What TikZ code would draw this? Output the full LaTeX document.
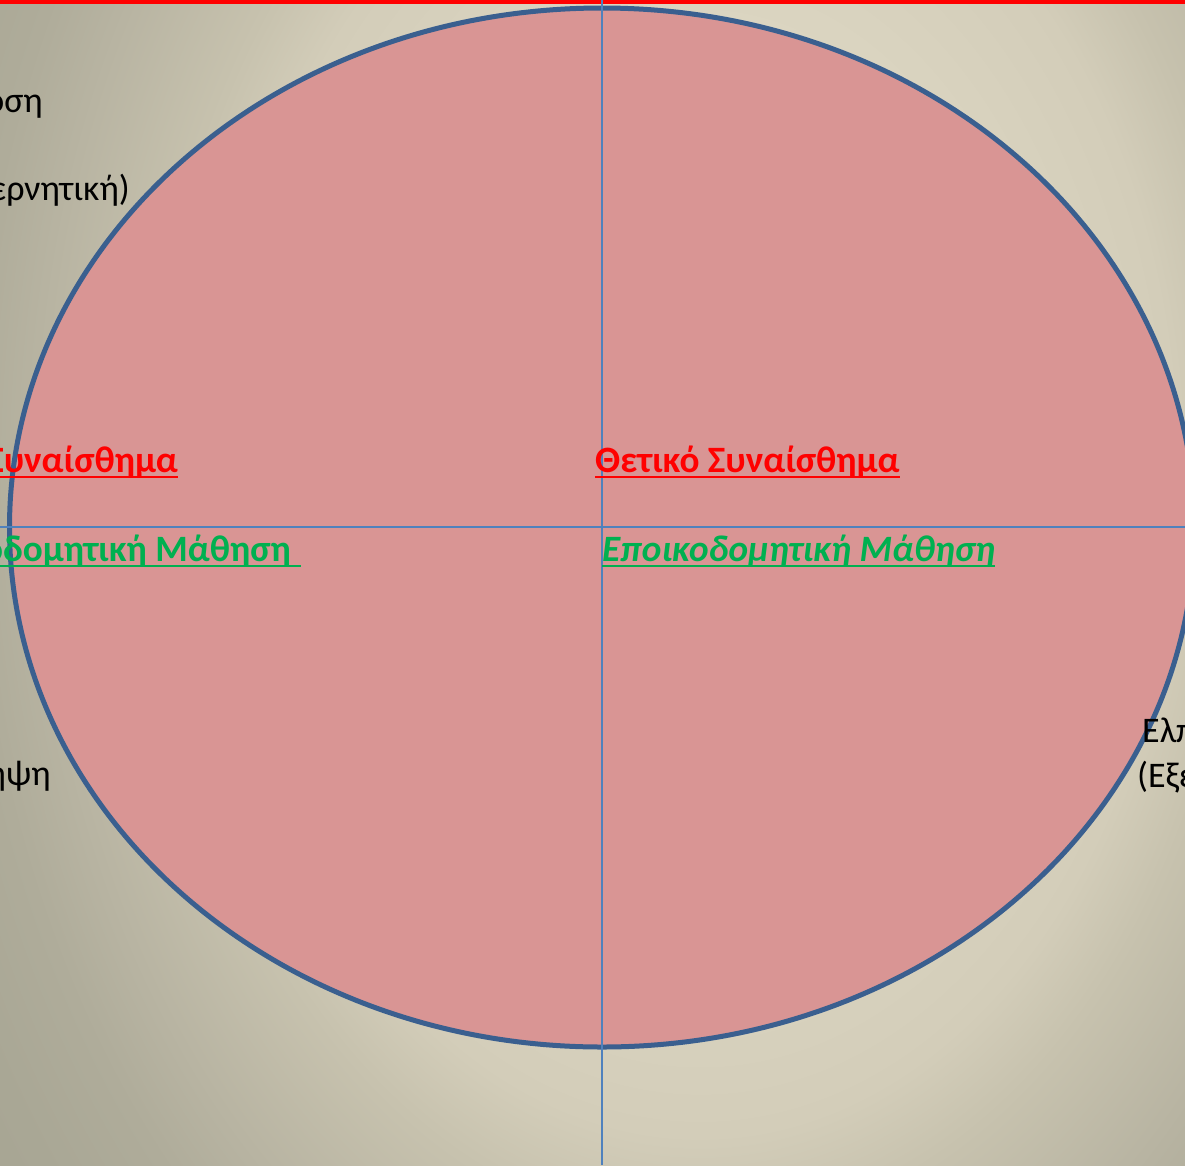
\documentclass[tikz,border=0pt]{standalone}
\usepackage{fontspec}
\usetikzlibrary{shapes.geometric}
\setmainfont{Carlito}
\definecolor{bgA}{HTML}{DFD9C5}
\definecolor{bgB}{HTML}{DCD6C2}
\definecolor{bgC}{HTML}{D3CDB9}
\definecolor{bgD}{HTML}{C7C2AE}
\definecolor{bgE}{HTML}{B8B4A2}
\definecolor{bgF}{HTML}{AFAC9A}
\definecolor{bgG}{HTML}{A9A795}
\definecolor{bgH}{HTML}{A4A190}
\definecolor{ellfill}{HTML}{D99594}
\definecolor{ellborder}{HTML}{3A5F8F}
\definecolor{axisblue}{HTML}{4F81BD}
\definecolor{txtred}{HTML}{FF0000}
\definecolor{txtgreen}{HTML}{00B050}
\pgfdeclareradialshading{bgshade}{\pgfpoint{0bp}{0bp}}{color(0bp)=(bgA); color(7.5bp)=(bgB); color(11.875bp)=(bgC); color(13.625bp)=(bgD); color(16.5bp)=(bgE); color(18.25bp)=(bgF); color(20.5bp)=(bgG); color(25bp)=(bgH); color(50bp)=(bgH)}
\tikzset{
  lbl/.style={inner sep=0pt, font=\fontsize{36}{44}\selectfont},
  redlbl/.style={lbl, text=txtred, font=\fontsize{37.2}{44}\selectfont\bfseries},
  greenlbl/.style={lbl, text=txtgreen, font=\fontsize{37.2}{44}\selectfont\bfseries},
  greenit/.style={lbl, text=txtgreen, font=\fontsize{37.2}{44}\selectfont\bfseries\itshape},
  blacklbl/.style={lbl, text=black},
  redul/.style={txtred, line width=2.8pt},
  greenul/.style={txtgreen, line width=2.8pt},
  axisline/.style={axisblue, line width=1.6pt},
}
\begin{document}
\begin{tikzpicture}[x=1pt,y=-1pt]
\useasboundingbox (0,0) rectangle (1185,1165);
\clip (0,0) rectangle (1185,1165);
% background
\shade[shading=bgshade] (700,470) ellipse [x radius=1000, y radius=1400];
% top red rule
\draw[txtred, line width=4.5pt] (0,1.5) -- (1185,1.5);
% ellipse
\node[draw=ellborder, fill=ellfill, line width=5pt, ellipse, minimum width=1185pt, minimum height=1039pt, inner sep=0pt] (ell) at (602,527.5) {};
% axes
\coordinate (vt) at (602,0);
\coordinate (vb) at (602,1165);
\coordinate (hl) at (0,527);
\coordinate (hr) at (1185,527);
\draw[axisline] (vt) -- (vb);
\draw[axisline] (hl) -- (hr);
% labels right
\node[redlbl, anchor=base west] (posem) at (595,472) {Θετικό Συναίσθημα};
\draw[redul] ([yshift=-5pt]posem.base west) -- ([yshift=-5pt]posem.base east);
\node[greenit, anchor=base west] (poslearn) at (602,561) {Εποικοδομητική Μάθηση};
\draw[greenul] ([yshift=-5pt]poslearn.base west) -- ([yshift=-5pt]poslearn.base east);
% labels left
\node[redlbl, anchor=base east] (negem) at (178,472) {Αρνητικό Συναίσθημα};
\draw[redul] ([yshift=-5pt]negem.base west) -- ([yshift=-5pt]negem.base east);
\node[greenlbl, anchor=base east] (neglearn) at (291,561) {Μη Εποικοδομητική Μάθηση};
\draw[greenul] ([yshift=-5pt]neglearn.base west) -- ([yshift=-5pt,xshift=10pt]neglearn.base east);
% black texts
\node[blacklbl, anchor=base east] (t1) at (43,112) {Απόδοση};
\node[blacklbl, anchor=base east] (t2) at (130,200) {(Κυβερνητική)};
\node[blacklbl, anchor=base east] (t3) at (51,785) {Επανάληψη};
\node[blacklbl, anchor=base west] (t4) at (1142,742) {Ελπίδα};
\node[blacklbl, anchor=base west] (t5) at (1137,787) {(Εξερεύνηση)};
\end{tikzpicture}
\end{document}
